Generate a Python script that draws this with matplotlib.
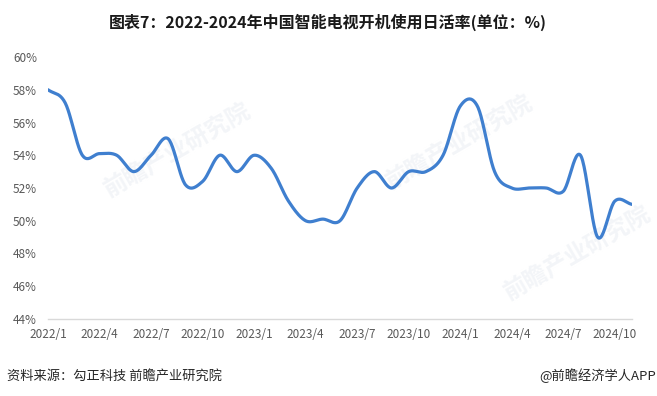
# 2022-2024 smart TV daily active rate, line chart
#

import numpy as np
import matplotlib.pyplot as plt

plt.rcParams["font.family"] = ["Noto Sans CJK SC", "DejaVu Sans"]

# monthly values, 2022/1 .. 2024/11 (%)
rate = [58.0, 57.2, 54.0, 54.1, 54.0, 53.0, 54.0, 55.0, 52.2, 52.4,
        54.0, 53.0, 54.0, 53.2, 51.2, 50.0, 50.1, 50.0, 52.0, 53.0,
        52.0, 53.0, 53.0, 54.0, 57.0, 57.0, 53.0, 52.0, 52.0, 52.0,
        51.8, 54.0, 49.0, 51.2, 51.0]
tick_pos = [0, 3, 6, 9, 12, 15, 18, 21, 24, 27, 30, 33]
tick_labels = ["2022/1", "2022/4", "2022/7", "2022/10", "2023/1", "2023/4",
               "2023/7", "2023/10", "2024/1", "2024/4", "2024/7", "2024/10"]
y_ticks = [44, 46, 48, 50, 52, 54, 56, 58, 60]

title = "图表7：2022-2024年中国智能电视开机使用日活率(单位：%)"
source = "资料来源：勾正科技 前瞻产业研究院"
brand = "@前瞻经济学人APP"


def smooth(values, steps=24):
    # catmull-rom style curve, like the excel "smoothed line"
    p = np.asarray(values, dtype=float)
    n = len(p)
    m = np.zeros(n)
    m[1:-1] = (p[2:] - p[:-2]) / 2
    m[0] = p[1] - p[0]
    m[-1] = p[-1] - p[-2]
    xs, ys = [], []
    t = np.linspace(0, 1, steps, endpoint=False)
    h00 = 2 * t**3 - 3 * t**2 + 1
    h10 = t**3 - 2 * t**2 + t
    h01 = -2 * t**3 + 3 * t**2
    h11 = t**3 - t**2
    for i in range(n - 1):
        xs.append(i + t)
        ys.append(h00 * p[i] + h10 * m[i] + h01 * p[i + 1] + h11 * m[i + 1])
    xs.append([n - 1])
    ys.append([p[-1]])
    return np.concatenate(xs), np.concatenate(ys)


fig = plt.figure(figsize=(6.57, 3.96), dpi=100)
ax = fig.add_axes([48 / 657, 77 / 396, 584 / 657, 262 / 396])

# faint watermarks, kept behind the line
for wx, wy in [(0.27, 0.62), (0.70, 0.64), (0.88, 0.36)]:
    ax.text(wx, wy, "前瞻产业研究院", transform=fig.transFigure, fontsize=17,
            fontweight="bold", color="#f3f5f8", rotation=30, ha="center",
            va="center", zorder=0, clip_on=False)

xs, ys = smooth(rate)
ax.plot(xs, ys, color="#3f7fcf", lw=2.3, solid_capstyle="round", zorder=3)

ax.set_xlim(0, len(rate) - 1)
ax.set_ylim(44, 60)
ax.set_yticks(y_ticks)
ax.set_yticklabels([f"{v}%" for v in y_ticks])
ax.set_xticks(tick_pos)
ax.set_xticklabels(tick_labels)
ax.tick_params(axis="y", length=0, pad=8, labelsize=8.5, labelcolor="#595959")
ax.tick_params(axis="x", length=0, pad=6.5, labelsize=8.5, labelcolor="#595959")

for side in ["top", "right", "left"]:
    ax.spines[side].set_visible(False)
ax.spines["bottom"].set_color("#d9d9d9")
ax.spines["bottom"].set_linewidth(1)
ax.patch.set_alpha(0)

fig.text(328 / 657, 1 - 22 / 396, title, fontsize=11.5, fontweight="bold",
         color="#1a1a1a", ha="center", va="center")
fig.text(7 / 657, 1 - 376 / 396, source, fontsize=9.5, color="#262626",
         ha="left", va="center")
fig.text(656 / 657, 1 - 376 / 396, brand, fontsize=9.5, color="#262626",
         ha="right", va="center")

fig.savefig("out.png", dpi=100)
